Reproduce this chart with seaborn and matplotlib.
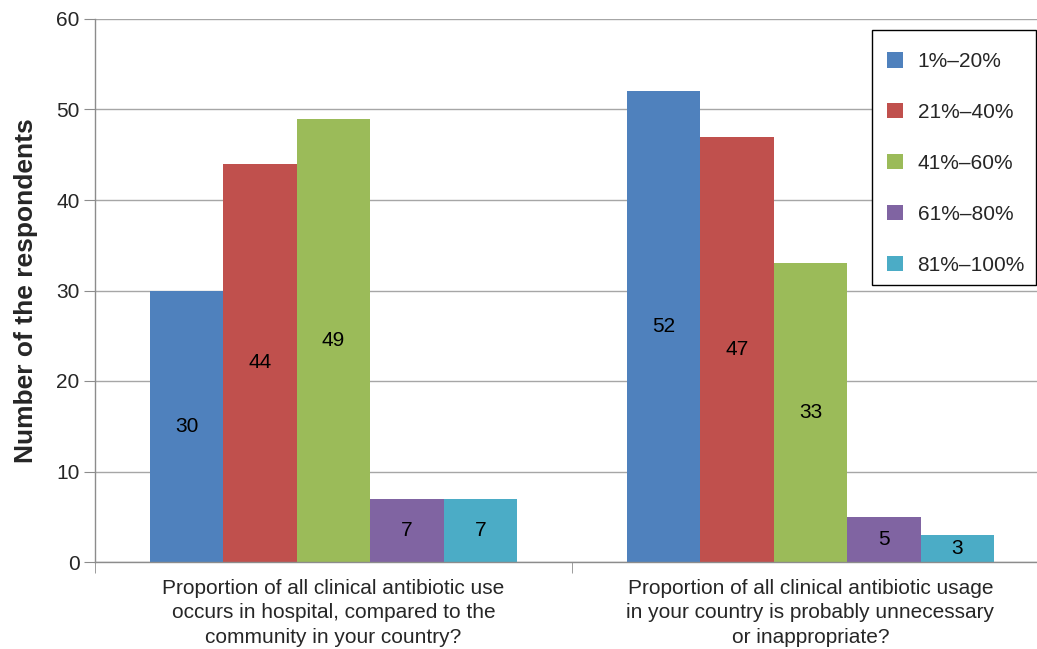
import numpy as np
import matplotlib.pyplot as plt
import seaborn as sns
import pandas as pd
from matplotlib.patches import Rectangle

# values
questions = ["Proportion of all clinical antibiotic use\noccurs in hospital, compared to the\ncommunity in your country?",
             "Proportion of all clinical antibiotic usage\nin your country is probably unnecessary\nor inappropriate?"]
ranges = ["1%\u201320%", "21%\u201340%", "41%\u201360%", "61%\u201380%", "81%\u2013100%"]
hospital = [30, 44, 49, 7, 7]
unnecessary = [52, 47, 33, 5, 3]
colours = ["#4F81BD", "#C0504D", "#9BBB59", "#8064A2", "#4BACC6"]

df = pd.DataFrame({
    "question": [questions[0]] * 5 + [questions[1]] * 5,
    "range": ranges * 2,
    "count": hospital + unnecessary,
})

sns.set_style("white")
plt.rcParams["font.family"] = ["Liberation Sans", "DejaVu Sans"]

fig = plt.figure(figsize=(10.37, 6.49), dpi=100)
ax = fig.add_axes([95 / 1037, 87 / 649, 954 / 1037, 543 / 649])

sns.barplot(data=df, x="question", y="count", hue="range", palette=colours,
            width=0.77, saturation=1, ax=ax, edgecolor="none")

for c in ax.containers:
    ax.bar_label(c, label_type="center", fontsize=15, color="black")

ax.set_ylim(0, 60)
ax.set_xlim(-0.5, 1.5)
ax.set_yticks(range(0, 61, 10))
ax.yaxis.grid(True, color="#a6a6a6", linewidth=1)
ax.set_axisbelow(True)

for side in ["top", "right"]:
    ax.spines[side].set_visible(False)
for side in ["left", "bottom"]:
    ax.spines[side].set_color("#8c8c8c")
    ax.spines[side].set_linewidth(1)

ax.tick_params(axis="y", left=True, length=8, color="#8c8c8c", labelsize=15, pad=3)
ax.tick_params(axis="x", which="major", length=0, pad=12)
ax.set_xticks([-0.5, 0.5, 1.5], minor=True)
ax.tick_params(axis="x", which="minor", bottom=True, length=8, color="#8c8c8c")
for lab in ax.get_xticklabels():
    lab.set_fontsize(15)
    lab.set_linespacing(1.38)

ax.set_xlabel("")
ax.set_ylabel("Number of the respondents", fontsize=19, fontweight="bold", labelpad=13)

# legend box drawn separately so its padding matches the original
ax.add_patch(Rectangle((872 / 1037, 1 - 285 / 649), 164 / 1037, 255 / 649,
                       transform=fig.transFigure, facecolor="white", clip_on=False,
                       edgecolor="black", linewidth=1, zorder=5))
leg = ax.legend(loc="upper left", bbox_to_anchor=(887 / 1037, 1 - 52 / 649),
                bbox_transform=fig.transFigure, frameon=False,
                fontsize=15, handlelength=0.77, handleheight=0.77, labelspacing=1.53,
                handletextpad=0.7, borderpad=0, borderaxespad=0)
leg.set_zorder(6)

fig.savefig("out.png", dpi=100)
